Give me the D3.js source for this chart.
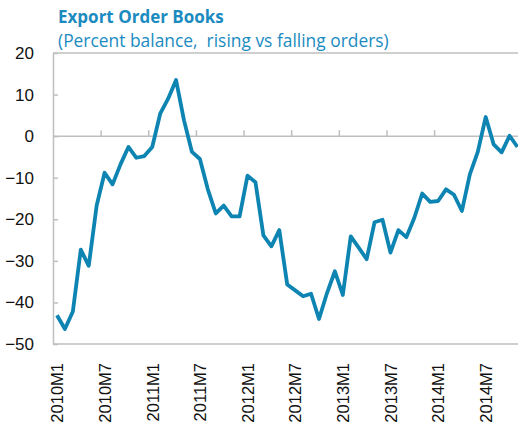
<!DOCTYPE html>
<html><head><meta charset="utf-8">
<script src="https://cdn.jsdelivr.net/npm/d3@7"></script>
<style>
html,body{margin:0;padding:0;background:#fff;}
svg{display:block;font-family:"Open Sans","Noto Sans",sans-serif;}
</style></head>
<body><svg id="c" width="518" height="428"></svg>
<script>
const title = "Export Order Books";
const subtitle = "(Percent balance,  rising vs falling orders)";
const years = [2010, 2011, 2012, 2013, 2014];
const categories = [];
years.forEach(y => { for (let m = 1; m <= 12; m++) categories.push(y + "M" + m); });
const values = [
  -43.1, -46.4, -42.2, -27.3, -31.2, -16.7, -8.8, -11.6, -6.8, -2.6, -5.2, -4.8,
  -2.6, 5.4, 9.0, 13.5, 3.8, -3.8, -5.5, -12.8, -18.6, -16.7, -19.3, -19.3,
  -9.5, -11.1, -23.9, -26.5, -22.6, -35.7, -37.1, -38.5, -37.9, -44.0, -37.8, -32.5,
  -38.2, -24.1, -26.8, -29.6, -20.7, -20.1, -28.0, -22.6, -24.3, -19.7, -13.8, -15.8,
  -15.6, -12.8, -14.1, -18.0, -9.2, -3.8, 4.6, -2.0, -3.9, 0.1, -2.6
];
const yTicks = [20, 10, 0, -10, -20, -30, -40, -50];
const xTickLabels = ["2010M1","2010M7","2011M1","2011M7","2012M1","2012M7","2013M1","2013M7","2014M1","2014M7"];

const svg = d3.select("#c");
const lineColor = "#0d84b1";
const titleColor = "#1b8bbf";
const axisColor = "#bfbfbf";

const n = values.length;
const x = d3.scaleLinear().domain([-0.5, n - 0.5]).range([53, 53 + n * 7.94]);
const y = d3.scaleLinear().domain([-50, 20]).range([344, 53]);

// title
svg.append("text").attr("x", 58).attr("y", 23).attr("fill", titleColor)
  .attr("font-size", 17).attr("font-weight", "bold").text(title);
svg.append("text").attr("x", 58).attr("y", 47).attr("fill", titleColor)
  .attr("font-size", 17.4).style("white-space", "pre").attr("xml:space", "preserve").text(subtitle);

// top border line (at 20) and bottom line
svg.append("line").attr("x1", x(-0.5)).attr("x2", 518).attr("y1", y(20)).attr("y2", y(20))
  .attr("stroke", axisColor).attr("stroke-width", 1.5);
svg.append("line").attr("x1", x(-0.5)).attr("x2", 518).attr("y1", y(-50)).attr("y2", y(-50))
  .attr("stroke", axisColor).attr("stroke-width", 1.5);

// y axis
const yAxis = d3.axisLeft(y).tickValues(yTicks).tickSizeInner(-5).tickSizeOuter(0).tickPadding(19);
const gy = svg.append("g").attr("transform", `translate(${x(-0.5)},0)`).call(yAxis);
gy.select(".domain").attr("stroke", axisColor).attr("stroke-width", 1.5);
gy.selectAll(".tick line").attr("stroke", axisColor).attr("stroke-width", 1.5);
gy.selectAll(".tick text").attr("fill", "#111").attr("font-size", 17);

// zero line with tick marks at category boundaries
const boundaryIdx = d3.range(6, n, 6).map(i => i - 0.5);
const gz = svg.append("g").attr("transform", `translate(0,${y(0)})`)
  .call(d3.axisTop(x).tickValues(boundaryIdx).tickSizeInner(6).tickSizeOuter(0).tickFormat(""));
gz.select(".domain").remove();
gz.selectAll(".tick line").attr("stroke", axisColor).attr("stroke-width", 1.5);
svg.append("line").attr("x1", x(-0.5)).attr("x2", 518).attr("y1", y(0)).attr("y2", y(0))
  .attr("stroke", axisColor).attr("stroke-width", 1.5);

// x labels
const labelIdx = xTickLabels.map(l => categories.indexOf(l));
const gx = svg.append("g").attr("transform", `translate(0,${y(-50)})`)
  .call(d3.axisBottom(x).tickValues(labelIdx).tickSize(0).tickFormat(i => categories[i]));
gx.select(".domain").remove();
gx.selectAll(".tick text")
  .attr("fill", "#111").attr("font-size", 16.5)
  .attr("transform", "rotate(-90)")
  .attr("x", -19).attr("y", 0).attr("dy", "0.35em")
  .attr("text-anchor", "end");

// line
const line = d3.line().x((d, i) => x(i)).y(d => y(d)).curve(d3.curveLinear);
svg.append("path").datum(values).attr("d", line)
  .attr("fill", "none").attr("stroke", lineColor).attr("stroke-width", 3.8)
  .attr("stroke-linejoin", "round").attr("stroke-linecap", "butt");
</script></body></html>
